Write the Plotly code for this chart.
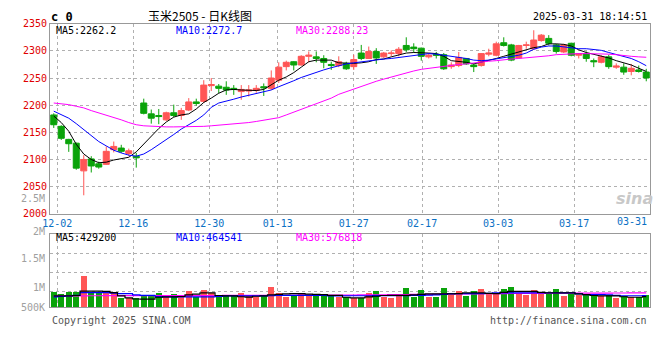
import plotly.graph_objects as go

# ---------------- data ----------------
dates = ["11-29",
         "12-02", "12-03", "12-04", "12-05", "12-06", "12-09", "12-10", "12-11", "12-12", "12-13",
         "12-16", "12-17", "12-18", "12-19", "12-20", "12-23", "12-24", "12-25", "12-26", "12-27",
         "12-30", "12-31", "01-02", "01-03", "01-06", "01-07", "01-08", "01-09", "01-10",
         "01-13", "01-14", "01-15", "01-16", "01-17", "01-20", "01-21", "01-22", "01-23", "01-24",
         "01-27", "02-05", "02-06", "02-07", "02-10", "02-11", "02-12", "02-13", "02-14",
         "02-17", "02-18", "02-19", "02-20", "02-21", "02-24", "02-25", "02-26", "02-27", "02-28",
         "03-03", "03-04", "03-05", "03-06", "03-07", "03-10", "03-11", "03-12", "03-13", "03-14",
         "03-17", "03-18", "03-19", "03-20", "03-21", "03-24", "03-25", "03-26", "03-27", "03-28",
         "03-31"]

open_ = [2182, 2161, 2137, 2130, 2079, 2101, 2092, 2091, 2118, 2121,
         2111, 2106, 2204, 2184, 2181, 2173, 2186, 2181, 2191, 2206,
         2207, 2236, 2235, 2233, 2231, 2225, 2226, 2227, 2234, 2231,
         2246, 2271, 2280, 2274, 2290, 2289, 2286, 2275, 2273, 2277,
         2271, 2296, 2286, 2299, 2289, 2295, 2295, 2310, 2307, 2305,
         2289, 2294, 2293, 2271, 2273, 2286, 2274, 2273, 2294, 2292,
         2315, 2311, 2287, 2310, 2304, 2319, 2323, 2311, 2298, 2314,
         2292, 2295, 2282, 2279, 2289, 2270, 2270, 2262, 2265, 2261]
high = [2185, 2163, 2138, 2131, 2108, 2106, 2096, 2124, 2133, 2127,
        2120, 2112, 2212, 2192, 2193, 2188, 2201, 2195, 2213, 2212,
        2246, 2250, 2239, 2244, 2237, 2237, 2237, 2237, 2240, 2264,
        2279, 2282, 2281, 2292, 2299, 2299, 2292, 2280, 2290, 2280,
        2293, 2311, 2308, 2305, 2298, 2301, 2307, 2325, 2314, 2306,
        2296, 2298, 2296, 2279, 2298, 2287, 2277, 2296, 2304, 2317,
        2325, 2313, 2311, 2317, 2338, 2331, 2329, 2313, 2313, 2315,
        2296, 2299, 2286, 2292, 2293, 2277, 2277, 2276, 2273, 2267]
low = [2158, 2136, 2114, 2081, 2034, 2076, 2083, 2090, 2113, 2112,
       2106, 2085, 2183, 2166, 2165, 2171, 2178, 2173, 2189, 2199,
       2204, 2226, 2222, 2219, 2219, 2210, 2216, 2223, 2217, 2228,
       2241, 2264, 2264, 2273, 2279, 2279, 2268, 2265, 2270, 2265,
       2265, 2283, 2285, 2276, 2287, 2290, 2290, 2298, 2297, 2282,
       2286, 2286, 2265, 2267, 2270, 2274, 2261, 2271, 2290, 2290,
       2308, 2281, 2286, 2304, 2302, 2317, 2310, 2295, 2296, 2290,
       2286, 2280, 2270, 2277, 2267, 2267, 2256, 2255, 2260, 2244]
close = [2164, 2139, 2129, 2084, 2100, 2088, 2086, 2115, 2124, 2115,
         2116, 2103, 2185, 2176, 2179, 2186, 2181, 2190, 2206, 2203,
         2237, 2238, 2231, 2228, 2229, 2229, 2228, 2231, 2232, 2250,
         2270, 2279, 2274, 2290, 2292, 2286, 2279, 2273, 2280, 2267,
         2284, 2286, 2299, 2287, 2296, 2296, 2303, 2302, 2304, 2290,
         2292, 2292, 2267, 2274, 2288, 2276, 2271, 2295, 2296, 2313,
         2310, 2283, 2310, 2311, 2320, 2329, 2314, 2299, 2311, 2292,
         2295, 2286, 2280, 2289, 2271, 2272, 2261, 2268, 2262, 2250]

ma5 = [2180, 2168, 2152, 2128, 2110, 2100, 2094, 2095, 2099, 2102,
       2104, 2114, 2128, 2143, 2157, 2169, 2178, 2182, 2184, 2193,
       2205, 2213, 2222, 2228, 2229, 2228, 2227, 2227, 2229, 2237,
       2246, 2252, 2260, 2270, 2280, 2283, 2283, 2283, 2278, 2277,
       2277, 2278, 2280, 2284, 2285, 2289, 2293, 2296, 2297, 2297,
       2296, 2295, 2290, 2282, 2281, 2279, 2276, 2279, 2283, 2286,
       2290, 2294, 2298, 2302, 2306, 2308, 2313, 2313, 2312, 2309,
       2302, 2297, 2294, 2290, 2287, 2282, 2278, 2274, 2268, 2262.2]
ma10 = [2189, 2182, 2176, 2166, 2155, 2144, 2133, 2125, 2117, 2112,
        2108, 2106, 2110, 2118, 2127, 2137, 2146, 2156, 2164, 2172,
        2182, 2196, 2204, 2207, 2211, 2215, 2218, 2221, 2224, 2228,
        2234, 2239, 2245, 2251, 2256, 2261, 2265, 2269, 2273, 2276,
        2278, 2280, 2282, 2283, 2285, 2286, 2288, 2289, 2291, 2294,
        2295, 2294, 2292, 2290, 2289, 2286, 2283, 2282, 2283, 2285,
        2287, 2289, 2292, 2296, 2303, 2307, 2309, 2309, 2307, 2305,
        2304, 2304, 2302, 2301, 2297, 2293, 2289, 2286, 2280, 2272.7]
ma30 = [2204, 2203, 2201, 2198, 2195, 2190, 2186, 2182, 2178, 2173,
        2168, 2164, 2162, 2161, 2161, 2160, 2160, 2160, 2160, 2161,
        2161, 2162, 2163, 2164, 2165, 2167, 2168, 2170, 2172, 2174,
        2177, 2182, 2187, 2193, 2198, 2203, 2208, 2213, 2220, 2225,
        2230, 2235, 2240, 2244, 2248, 2252, 2255, 2259, 2263, 2266,
        2268, 2270, 2272, 2273, 2275, 2276, 2278, 2279, 2281, 2282,
        2284, 2285, 2286, 2287, 2288, 2290, 2291, 2293, 2294, 2295,
        2295, 2295, 2295, 2295, 2294, 2293, 2291, 2290, 2289, 2288.23]

volume = [612000, 546000, 612000, 612000, 1236000, 585000, 585000, 612000, 585000, 351000,
          351000, 378000, 480000, 456000, 585000, 417000, 546000, 417000, 651000, 417000,
          702000, 585000, 417000, 456000, 456000, 585000, 456000, 417000, 456000, 807000,
          585000, 417000, 480000, 585000, 456000, 546000, 456000, 456000, 417000, 417000,
          378000, 378000, 585000, 651000, 417000, 351000, 507000, 768000, 417000, 690000,
          417000, 417000, 768000, 507000, 651000, 456000, 651000, 729000, 546000, 546000,
          729000, 807000, 585000, 507000, 690000, 585000, 546000, 729000, 456000, 546000,
          507000, 507000, 456000, 456000, 507000, 378000, 456000, 417000, 417000, 507000]
vma5 = [456000, 456000, 456000, 470000, 651000, 651000, 651000, 640000, 585000, 456000,
        378000, 330000, 324000, 324000, 400000, 417000, 417000, 430000, 500000, 530000,
        573000, 573000, 470000, 456000, 456000, 420000, 402000, 440000, 456000, 500000,
        520000, 540000, 546000, 546000, 530000, 520000, 510000, 480000, 480000, 400000,
        378000, 378000, 417000, 440000, 470000, 480000, 480000, 480000, 500000, 520000,
        534000, 534000, 534000, 534000, 550000, 573000, 573000, 573000, 560000, 546000,
        600000, 636000, 636000, 636000, 636000, 600000, 573000, 573000, 573000, 573000,
        540000, 507000, 470000, 456000, 456000, 456000, 420000, 400000, 400000, 429200]
vma10 = [417000, 430000, 450000, 480000, 585000, 585000, 585000, 585000, 570000, 546000,
         546000, 500000, 480000, 480000, 430000, 417000, 417000, 417000, 417000, 417000,
         417000, 417000, 430000, 456000, 456000, 456000, 456000, 456000, 456000, 460000,
         470000, 480000, 480000, 480000, 480000, 480000, 480000, 456000, 456000, 460000,
         460000, 460000, 460000, 465000, 468000, 468000, 468000, 468000, 470000, 480000,
         490000, 500000, 520000, 546000, 546000, 546000, 546000, 550000, 560000, 573000,
         573000, 573000, 573000, 573000, 573000, 573000, 573000, 573000, 573000, 573000,
         540000, 507000, 507000, 507000, 500000, 480000, 460000, 460000, 460000, 464541]
vma30 = [456000, 456000, 457000, 458000, 459000, 460000, 461000, 462000, 462000, 463000,
         463000, 464000, 464000, 465000, 465000, 466000, 466000, 467000, 468000, 469000,
         470000, 471000, 472000, 473000, 474000, 475000, 476000, 477000, 478000, 479000,
         480000, 481000, 482000, 483000, 484000, 485000, 486000, 487000, 488000, 489000,
         490000, 493000, 496000, 499000, 502000, 505000, 508000, 511000, 514000, 517000,
         520000, 523000, 526000, 529000, 532000, 535000, 538000, 541000, 544000, 547000,
         550000, 552000, 554000, 556000, 558000, 560000, 562000, 563000, 564000, 565000,
         566000, 567000, 568000, 569000, 570000, 571000, 572000, 573000, 575000, 576818]

price_ticks = [2000, 2050, 2100, 2150, 2200, 2250, 2300, 2350]
date_labels = ["12-02", "12-16", "12-30", "01-13", "01-27", "02-17", "03-03", "03-17", "03-31"]
vol_labels = ["2.5M", "2M", "1.5M", "1M", "500K"]

title_text = "玉米2505 - 日K线图"
stamp_text = "2025-03-31 18:14:51"

# ---------------- geometry / style ----------------
W, H = 660, 360
L, R = 50, 650            # plot area left / right pixels
MAIN_TOP, MAIN_BOT = 18.3, 214.3
VOL_TOP, VOL_BOT = 234.7, 310.7
VMAX = 2964000
RED, GREEN = "#ff5656", "#0aa30a"
BLUE_LBL = "#0a70c4"
MONO = "DejaVu Sans Mono"
GRID = "#b0b0b0"
BORDER = "#999999"

n = len(dates)
xs = list(range(n))


def px2x(px):
    return (px - L) / (R - L)


def py2y(py):
    return 1 - py / H


# Sina draws the date grid on a slightly different step than the candles
def grid_pos(k):
    pix = 57.3 + 7.6 * (k - 1)
    return (pix - L) / ((R - L) / n) - 0.5


tick_idx = [dates.index(d) for d in date_labels]
tick_x = [grid_pos(k) for k in tick_idx]

up = [c >= o for o, c in zip(open_, close)]
vol_colors = [RED if u else GREEN for u in up]

fig = go.Figure()

fig.add_trace(go.Candlestick(
    x=xs, open=open_, high=high, low=low, close=close,
    increasing=dict(line=dict(color=RED, width=1), fillcolor=RED),
    decreasing=dict(line=dict(color=GREEN, width=1), fillcolor=GREEN),
    whiskerwidth=0, xaxis="x", yaxis="y", hoverinfo="skip", showlegend=False))

for vals, col in [(ma5, "#000000"), (ma10, "#0000ff"), (ma30, "#ff00ff")]:
    fig.add_trace(go.Scatter(x=xs, y=vals, mode="lines", line=dict(color=col, width=1),
                             xaxis="x", yaxis="y", hoverinfo="skip", showlegend=False))

fig.add_trace(go.Bar(x=xs, y=volume, marker=dict(color=vol_colors, line=dict(width=0)),
                     width=0.8, xaxis="x2", yaxis="y2", hoverinfo="skip", showlegend=False))

for vals, col in [(vma30, "#ff00ff"), (vma10, "#0000ff"), (vma5, "#000000")]:
    fig.add_trace(go.Scatter(x=xs, y=vals, mode="lines", line=dict(color=col, width=1.2, shape="hvh"),
                             xaxis="x2", yaxis="y2", hoverinfo="skip", showlegend=False))

common_x = dict(range=[-0.5, n - 0.5], tickvals=tick_x[:-1], ticktext=date_labels[:-1],
                showgrid=True, gridcolor=GRID, griddash="dot", gridwidth=1,
                showline=True, mirror=True, linecolor=BORDER, linewidth=1,
                ticks="", zeroline=False, fixedrange=True)

fig.update_layout(
    width=W, height=H, autosize=False,
    margin=dict(l=L, r=W - R, t=0, b=0, pad=0),
    paper_bgcolor="white", plot_bgcolor="white",
    boxgap=0.2, boxgroupgap=0, bargap=0,
    showlegend=False,
    xaxis=dict(domain=[0, 1], anchor="y", rangeslider=dict(visible=False),
               tickfont=dict(family=MONO, size=10, color=BLUE_LBL), **common_x),
    yaxis=dict(domain=[py2y(MAIN_BOT), py2y(MAIN_TOP)], anchor="x", range=[2000, 2350],
               tickvals=price_ticks, ticktext=[str(v) for v in price_ticks],
               tickfont=dict(family=MONO, size=10, color="#e00000"),
               showgrid=True, gridcolor=GRID, griddash="dot",
               showline=True, mirror=True, linecolor=BORDER, linewidth=1,
               ticks="", zeroline=False, fixedrange=True),
    xaxis2=dict(domain=[0, 1], anchor="y2", showticklabels=False, **common_x),
    yaxis2=dict(domain=[py2y(VOL_BOT), py2y(VOL_TOP)], anchor="x2", range=[0, VMAX],
                tickvals=[VMAX * f for f in (15.7 / 76, 35.7 / 76, 55.7 / 76)],
                showticklabels=False, showgrid=True, gridcolor=GRID, griddash="dot",
                showline=True, mirror=True, linecolor=BORDER, linewidth=1,
                ticks="", zeroline=False, fixedrange=True),
)

ann = []


def text(px, py, s, color="#000", size=10, anchor="left", family=MONO, bold=False, italic=False):
    if bold:
        s = "<b>" + s + "</b>"
    if italic:
        s = "<i>" + s + "</i>"
    ann.append(dict(x=px2x(px), y=py2y(py), xref="paper", yref="paper", text=s, showarrow=False,
                    xanchor=anchor, yanchor="middle", font=dict(family=family, size=size, color=color)))


# header
text(49, 11, "c 0", size=12, bold=True)
text(200, 10, title_text, size=12, anchor="center", family="Noto Sans CJK SC")
text(649, 11, stamp_text, size=10, anchor="right")
# MA legends (price)
text(54, 25, "MA5:%.1f" % ma5[-1], color="#000000")
text(174, 25, "MA10:%.1f" % ma10[-1], color="#0000ff")
text(294, 25, "MA30:%.2f" % ma30[-1], color="#ff00ff")
# MA legends (volume)
text(54, 239, "MA5:%d" % vma5[-1], color="#000000")
text(174, 239, "MA10:%d" % vma10[-1], color="#0000ff")
text(294, 239, "MA30:%d" % vma30[-1], color="#ff00ff")
# last date label, right aligned at the border
text(649, 222, date_labels[-1], color=BLUE_LBL, anchor="right")
# volume axis labels
for lbl, py in zip(vol_labels, [199, 233, 260, 290, 311]):
    text(47, py, lbl, color="#a0a0a0", anchor="right")
# footer
text(50, 324, "Copyright 2025 SINA.COM", color="#555555")
text(649, 324, "http://finance.sina.com.cn", color="#555555", anchor="right")
# watermark
text(634, 199, "sina", color="#c8c8c8", size=16, anchor="center", family="DejaVu Sans", bold=True, italic=True)

fig.update_layout(annotations=ann)

fig.write_html("out.html", config=dict(displayModeBar=False, staticPlot=True),
               post_script="document.body.style.margin='0';document.body.style.overflow='hidden';")
